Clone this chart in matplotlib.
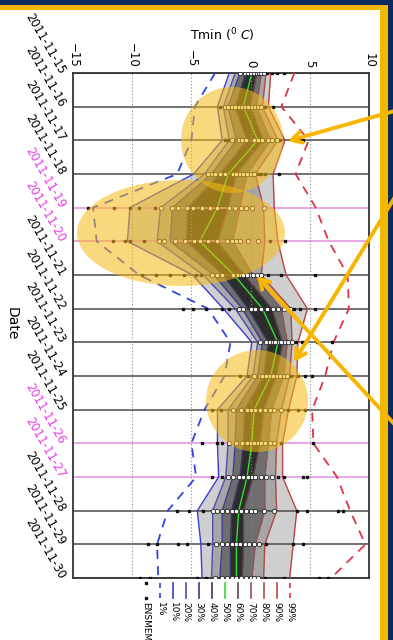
import numpy as np
import matplotlib.pyplot as plt
from matplotlib.patches import Ellipse, Rectangle
from matplotlib.lines import Line2D

dates = ['2011-11-15', '2011-11-16', '2011-11-17', '2011-11-18', '2011-11-19',
         '2011-11-20', '2011-11-21', '2011-11-22', '2011-11-23', '2011-11-24',
         '2011-11-25', '2011-11-26', '2011-11-27', '2011-11-28', '2011-11-29',
         '2011-11-30']
weekend = ['2011-11-19', '2011-11-20', '2011-11-26', '2011-11-27']

# Tmin percentiles of the ensemble for each date
p01 = [-3.0, -4.7, -5.0, -6.2, -13.3, -13.0, -9.4, -3.6, -1.7, -2.2, -3.9, -5.0, -4.6, -7.0, -7.9, -7.8]
p10 = [-1.8, -2.8, -2.4, -4.8, -10.2, -10.4, -4.9, -2.3, 0.1, -0.3, -2.8, -2.8, -2.7, -4.5, -4.2, -4.1]
p20 = [-1.3, -2.3, -1.8, -3.9, -7.6, -7.9, -4.0, -1.3, 0.6, 0.2, -1.9, -1.9, -2.1, -3.2, -3.2, -3.3]
p30 = [-0.9, -1.9, -1.2, -3.3, -6.6, -6.8, -3.1, -0.7, 1.0, 0.6, -1.2, -1.3, -1.5, -2.4, -2.4, -2.6]
p40 = [-0.4, -1.3, -0.3, -2.6, -5.3, -5.4, -2.3, -0.2, 1.5, 1.1, -0.5, -0.6, -0.9, -1.6, -1.7, -1.7]
p50 = [0.1, -0.6, 0.6, -1.9, -2.8, -4.3, -1.4, 1.0, 2.3, 1.7, 0.3, 0.1, -0.3, -1.0, -1.2, -1.2]
p60 = [0.5, 0.0, 1.1, -1.2, -1.9, -2.8, -0.5, 1.8, 2.7, 2.2, 1.1, 0.8, 0.2, -0.6, -0.6, -0.7]
p70 = [0.9, 0.5, 1.7, -0.3, -0.9, -1.5, 0.2, 2.6, 3.1, 2.8, 1.8, 1.5, 1.2, 1.2, 0.4, 0.1]
p80 = [1.3, 1.0, 2.3, 0.4, 1.1, 1.2, 0.9, 3.4, 3.5, 3.3, 2.6, 2.2, 2.1, 2.2, 1.2, 1.1]
p90 = [1.7, 1.5, 2.9, 1.9, 2.0, 2.3, 3.0, 4.8, 4.0, 3.9, 3.2, 2.7, 2.7, 3.9, 3.6, 3.3]
p99 = [3.7, 2.6, 4.9, 3.8, 5.5, 6.6, 8.2, 8.3, 7.0, 6.3, 5.2, 5.3, 7.3, 8.4, 9.7, 6.8]

# ensemble members per date
ens = [
    [-0.9, -0.5, -0.2, 0.0, 0.3, 0.5, 0.7, 0.9, 1.1, 1.4, 1.8, 2.2, 2.8],
    [-2.6, -2.2, -1.9, -1.6, -1.3, -1.0, -0.7, -0.5, -0.2, 0.1, 0.4, 0.6, 0.9, 1.2, 1.9],
    [-2.2, -1.9, -1.6, -1.0, -0.7, -0.4, 0.3, 0.6, 1.0, 1.5, 1.8, 2.2, 2.5, 4.2, 4.4],
    [-3.6, -3.3, -3.0, -2.6, -2.2, -1.5, -1.2, -0.9, -0.6, -0.3, 0.0, 0.3, 0.6, 0.9, 1.2, 2.4],
    [-13.7, -11.5, -10.2, -9.4, -8.1, -7.6, -6.6, -6.1, -5.4, -4.9, -4.1, -3.4, -2.8, -1.8,
     -1.3, -0.8, -0.4, 0.1, 1.1],
    [-11.6, -10.6, -10.2, -9.0, -7.7, -7.3, -6.4, -5.5, -4.8, -4.3, -3.6, -2.8, -2.0, -1.6,
     -1.2, -0.9, -0.2, 0.6, 1.6, 2.9],
    [-9.2, -8.0, -6.8, -5.6, -4.6, -4.2, -3.3, -2.8, -2.4, -1.5, -1.1, -0.8, -0.6, -0.3, 0.0,
     0.2, 0.5, 0.9, 1.5, 2.6, 5.4],
    [-5.7, -4.9, -3.8, -2.4, -1.8, -1.0, -0.6, 0.0, 0.4, 0.9, 1.4, 1.9, 2.3, 2.8, 3.3, 3.7, 4.2, 5.4],
    [0.8, 1.3, 1.6, 1.9, 2.1, 2.4, 2.6, 2.9, 3.2, 3.5, 3.8, 4.3, 4.6, 5.6, 6.9],
    [-0.9, -0.2, 0.3, 0.8, 1.0, 1.3, 1.6, 1.9, 2.2, 2.5, 2.8, 3.1, 3.4, 4.0, 4.6, 5.2],
    [-3.3, -2.5, -1.5, -0.8, -0.3, 0.0, 0.4, 0.8, 1.2, 1.6, 2.0, 2.6, 3.2, 4.0, 4.6],
    [-4.1, -2.8, -2.4, -1.8, -1.2, -0.7, -0.3, 0.0, 0.3, 0.6, 0.9, 1.2, 1.6, 2.0, 2.6, 5.3],
    [-3.3, -2.4, -1.9, -1.5, -1.0, -0.6, -0.2, 0.1, 0.4, 0.9, 1.3, 1.8, 2.3, 2.8, 4.4, 4.8],
    [-6.2, -5.2, -4.0, -3.2, -2.8, -2.4, -2.0, -1.6, -1.2, -0.8, -0.4, 0.0, 0.4, 1.1, 2.0, 3.9,
     4.8, 7.4, 7.8],
    [-8.7, -7.9, -6.1, -5.4, -3.6, -2.9, -2.4, -2.0, -1.6, -1.2, -0.9, -0.5, -0.1, 0.3, 0.7, 1.3,
     3.6, 4.4],
    [-9.3, -8.5, -4.5, -3.8, -3.0, -2.4, -2.0, -1.6, -1.2, -0.8, -0.4, 0.0, 0.3, 0.6, 1.2, 2.8,
     5.8, 6.5],
]

labels = ['1%', '10%', '20%', '30%', '40%', '50%', '60%', '70%', '80%', '90%', '99%']
series = [p01, p10, p20, p30, p40, p50, p60, p70, p80, p90, p99]
colors = ['#3344dd', '#3a3acc', '#4a4ab0', '#3a3a90', '#353560', '#33dd33',
          '#604545', '#905555', '#b04a4a', '#c04444', '#dd3344']
styles = ['--', '-', '-', '-', '-', '-', '-', '-', '-', '-', '--']

W, H = 393, 640
fig = plt.figure(figsize=(W / 100, H / 100), dpi=100)
fig.patch.set_facecolor('#0b2b5e')

# backdrop: yellow rim and white panel (pixel coords, origin top-left)
bg = fig.add_axes([0, 0, 1, 1], zorder=0)
bg.set_xlim(0, W)
bg.set_ylim(H, 0)
bg.axis('off')
bg.add_patch(Rectangle((0, 5), 388, H, color='#f2b800', lw=0))
bg.add_patch(Rectangle((0, 10), 380, H, color='white', lw=0))

ax = fig.add_axes([73 / W, 1 - 578 / H, (369 - 73) / W, (578 - 73) / H], zorder=1)
y = np.arange(len(dates))

ax.fill_betweenx(y, p10, p90, color='#cfcfcf', lw=0, zorder=1)
ax.fill_betweenx(y, p20, p80, color='#a6a6a6', lw=0, zorder=1)
ax.fill_betweenx(y, p30, p70, color='#6e6e6e', lw=0, zorder=1)
ax.fill_betweenx(y, p40, p60, color='#2c2c2c', lw=0, zorder=1)

for i, d in enumerate(dates):
    c = '#e08ee0' if d in weekend else '#4a4a4a'
    ax.axhline(i, color=c, lw=1.1, zorder=2)
for v in [-10, -5, 0, 5]:
    ax.axvline(v, color='#888888', lw=0.8, ls=(0, (1, 2)), zorder=2)

for vals, lab, c, ls in zip(series, labels, colors, styles):
    if ls == '--':
        ax.plot(vals, y, color=c, lw=1.3, ls=(0, (5, 4)), zorder=3)
    else:
        ax.plot(vals, y, color=c, lw=1.0, zorder=3)

# members: open circles inside the 20-80% band, black dots outside
for i, vals in enumerate(ens):
    v = np.array(vals)
    inner = (v >= p20[i]) & (v <= p80[i])
    ax.plot(v[inner], np.full(inner.sum(), i), 'o', ms=3.2, mfc='white', mec='#222222',
            mew=0.6, zorder=4)
    ax.plot(v[~inner], np.full((~inner).sum(), i), 's', ms=1.8, color='#111111', zorder=4)

ax.set_xlim(-15, 10)
ax.set_ylim(len(dates) - 1, 0)
ax.xaxis.tick_top()
ax.set_xticks([-15, -10, -5, 0, 5, 10])
ax.tick_params(axis='x', length=0, pad=4, labelsize=8.5, labelrotation=-90)
ax.set_yticks(y)
ax.set_yticklabels(dates, rotation=-60, ha='right', va='center',
                   rotation_mode='anchor', fontsize=8.4)
for t in ax.get_yticklabels():
    if t.get_text() in weekend:
        t.set_color('#e83ae8')
ax.tick_params(axis='y', length=0, pad=8)
for s in ax.spines.values():
    s.set_linewidth(1.3)
    s.set_color('#333333')

fig.text(222 / W, 1 - 35 / H, r'Tmin ($^0$ $C$)', ha='center', va='center', fontsize=9)
fig.text(12 / W, 1 - 324 / H, 'Date', ha='center', va='center', rotation=-90, fontsize=10)

# legend laid out sideways under the axes
ov = fig.add_axes([0, 0, 1, 1], zorder=3)
ov.set_xlim(0, W)
ov.set_ylim(H, 0)
ov.axis('off')
ov.plot([146, 146], [583, 598], 's', ms=1.8, color='#111111')
ov.text(146, 602, 'ENSMEM', rotation=-90, ha='center', va='top', fontsize=6.5)
for k, (lab, c, ls) in enumerate(zip(labels, colors, styles)):
    x = 160 + 13.0 * k
    dash = (0, (3, 3)) if ls == '--' else '-'
    ov.add_line(Line2D([x, x], [583, 598], color=c, lw=1.2, ls=dash))
    ov.text(x, 602, lab, rotation=-90, ha='center', va='top', fontsize=6.5)

# highlight ellipses and arrows
hl = dict(color='#f5b914', alpha=0.55, lw=0)
ov.add_patch(Ellipse((232, 140), 102, 106, **hl))
ov.add_patch(Ellipse((181, 233), 208, 106, **hl))
ov.add_patch(Ellipse((257, 401), 102, 102, **hl))

arrow = dict(arrowstyle='->,head_length=0.7,head_width=0.4', color='#f7b500', lw=2.8,
             shrinkA=0, shrinkB=0)
ov.annotate('', xy=(288, 141), xytext=(398, 110), arrowprops=arrow)
ov.annotate('', xy=(294, 362), xytext=(398, 192), arrowprops=arrow)
ov.annotate('', xy=(257, 276), xytext=(398, 428), arrowprops=arrow)

fig.savefig('out.png', dpi=100, facecolor=fig.get_facecolor())
